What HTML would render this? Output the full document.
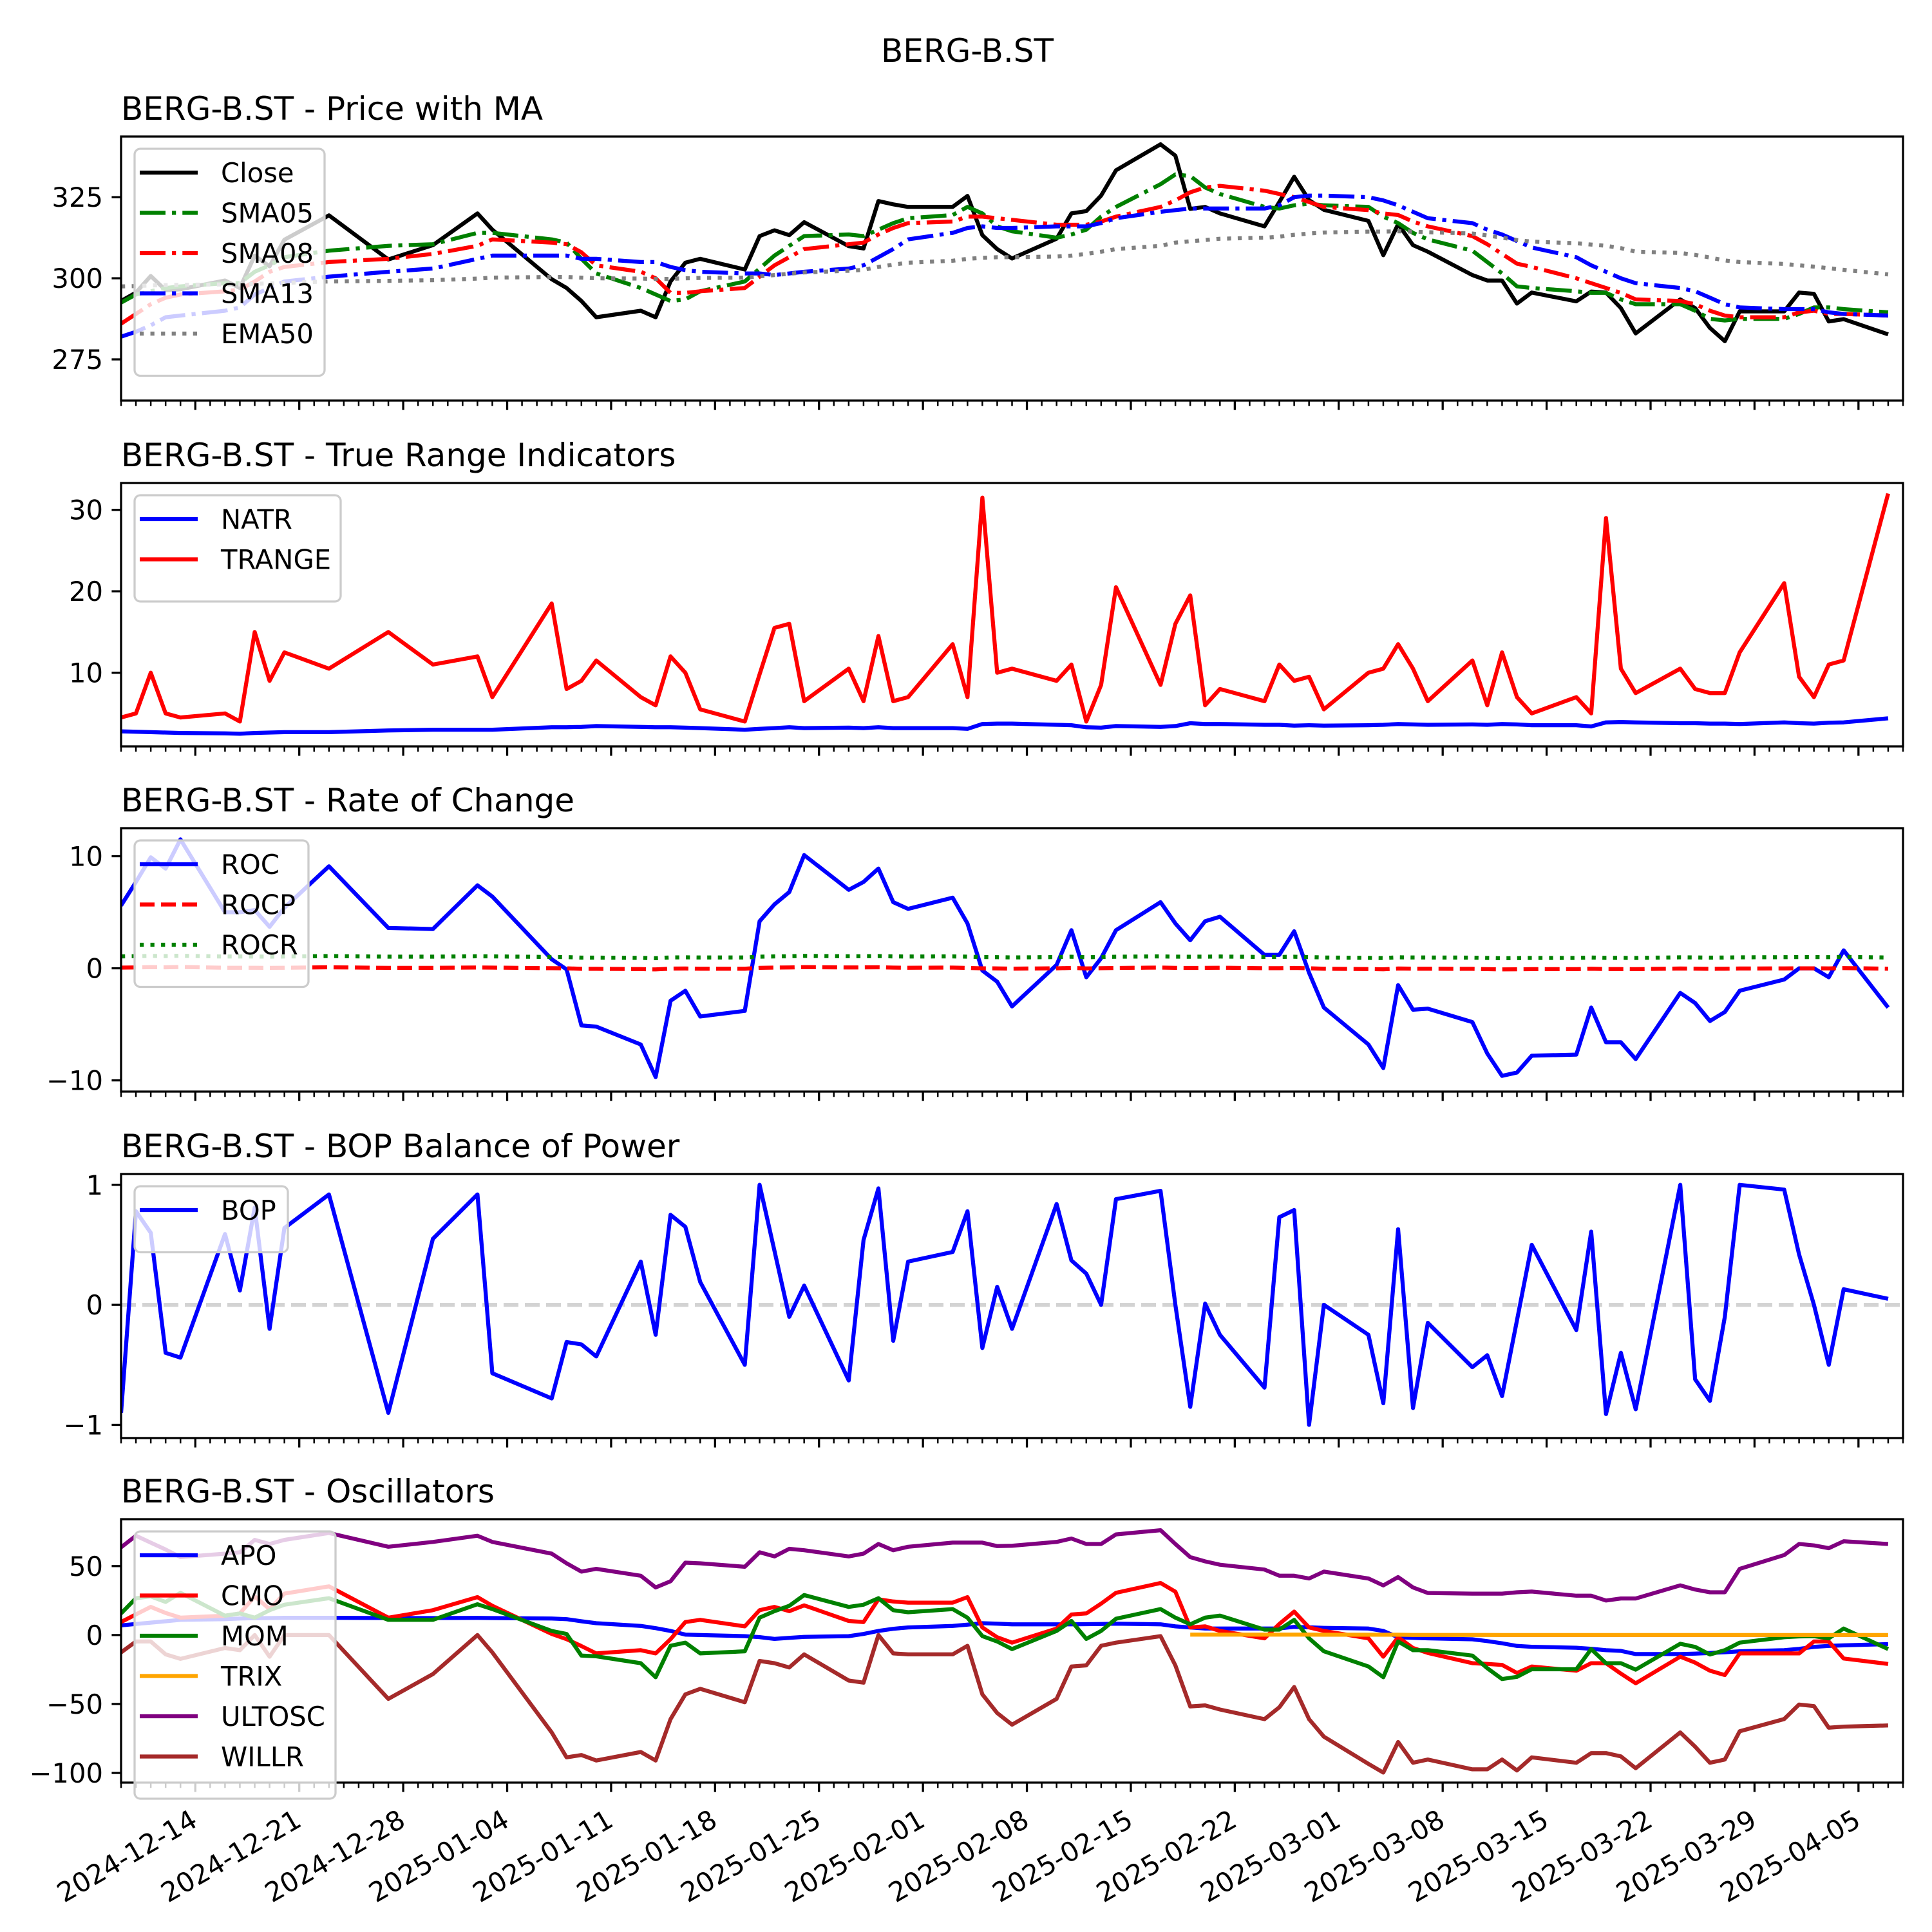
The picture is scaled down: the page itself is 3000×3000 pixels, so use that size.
<!DOCTYPE html>
<html><head><meta charset="utf-8"><title>BERG-B.ST</title>
<style>
html,body{margin:0;padding:0;background:#fff;}
svg{display:block;font-family:"DejaVu Sans","Liberation Sans",sans-serif;}
</style></head>
<body>
<svg id="chart" xmlns="http://www.w3.org/2000/svg" width="3000" height="3000" viewBox="0 0 3000 3000">
<rect x="0" y="0" width="3000" height="3000" fill="#fff"/>
<text x="1502" y="96" font-size="50" text-anchor="middle">BERG-B.ST</text>
</svg>
<script>
const dates = ["2024-12-09","2024-12-10","2024-12-11","2024-12-12","2024-12-13","2024-12-16","2024-12-17","2024-12-18","2024-12-19","2024-12-20","2024-12-23","2024-12-27","2024-12-30","2025-01-02","2025-01-03","2025-01-07","2025-01-08","2025-01-09","2025-01-10","2025-01-13","2025-01-14","2025-01-15","2025-01-16","2025-01-17","2025-01-20","2025-01-21","2025-01-22","2025-01-23","2025-01-24","2025-01-27","2025-01-28","2025-01-29","2025-01-30","2025-01-31","2025-02-03","2025-02-04","2025-02-05","2025-02-06","2025-02-07","2025-02-10","2025-02-11","2025-02-12","2025-02-13","2025-02-14","2025-02-17","2025-02-18","2025-02-19","2025-02-20","2025-02-21","2025-02-24","2025-02-25","2025-02-26","2025-02-27","2025-02-28","2025-03-03","2025-03-04","2025-03-05","2025-03-06","2025-03-07","2025-03-10","2025-03-11","2025-03-12","2025-03-13","2025-03-14","2025-03-17","2025-03-18","2025-03-19","2025-03-20","2025-03-21","2025-03-24","2025-03-25","2025-03-26","2025-03-27","2025-03-28","2025-03-31","2025-04-01","2025-04-02","2025-04-03","2025-04-04","2025-04-07"];
const tickLabels = ["2024-12-14","2024-12-21","2024-12-28","2025-01-04","2025-01-11","2025-01-18","2025-01-25","2025-02-01","2025-02-08","2025-02-15","2025-02-22","2025-03-01","2025-03-08","2025-03-15","2025-03-22","2025-03-29","2025-04-05"];
const close = [293,295.6,300.7,296.3,296.6,299.3,297,307,303.7,311.9,319.4,305.8,310.2,320,315,299.7,297,293,288,290,288,299,304.8,306,302.7,313,314.8,313.3,317.3,309.9,309.2,323.8,322.8,322,322,325.4,313.3,309,306.1,312.2,320,320.7,325.5,333.3,341.3,337.8,321.4,322,320,316,323.5,331.3,324.1,321.1,317.7,307.1,316.7,310.2,308.2,301,299.3,299.3,292.2,295.6,292.9,295.9,295.6,290.8,283,293.5,290.8,284.7,280.6,289.8,289.8,295.6,295.2,286.7,287.4,282.7];
const sma05 = [292.5,295,296,297,297.5,298.5,298.5,302,304,306.5,308.5,310,310.5,314,314,312,311,306,301.5,297,295,293,293.5,296,299,303,307,310,313,313.5,313,315,317,318.5,319.5,322,320,316,314.5,312.5,313.5,315,319,322,329,332,331.5,328,326,322,321.5,322.5,323,322.5,322,319,317,314,312,308.5,305,301.5,297.5,297,296,295.5,295.5,293.5,292,292,290,287.5,287,287.5,287.5,289,291,291,290.5,289.5];
const sma08 = [286,289,292,294,295,296,296.5,299,302,303.5,305,306,307.5,310,312,311,310.5,308,304,302,300,295.5,295.5,296,297,300.5,304,306.5,309,310.5,311,313.5,315.5,317,317.5,319,319,318.5,318,316.5,316.5,316.5,317.5,319,322,324,326.5,328,328.5,327,326,325,323.5,322,321,320,319.5,317.5,316,313,310.5,307.5,304.5,303.5,300,298.5,297,295.5,293.5,293,292,290,288.5,288,288,289.5,290,289,289,288.5];
const sma13 = [282,283.5,285.5,288,288.5,290,291,295,297,299,300.5,302,303,306,307,307,307,306,306,305,305,303.5,302.5,302,301.5,301.5,301,301.5,302,303,304,306.5,309,312,314,315.5,316,315.5,315.5,316,316,316,317,318.5,320.5,321,321.5,321.5,321.5,321.5,322.5,325,325.5,325.5,325,324,322.5,320.5,318.5,317,315,313.5,311.5,309.5,306.5,304,302,300,298.5,297,296,294,292,291,290.5,290.5,290.5,289.5,289,288.5];
const ema50 = [297.5,297.6,297.8,297.9,298,298.1,298.1,298.3,298.4,298.6,299,299.2,299.4,299.9,300.2,300.4,300.4,300.2,300,299.9,299.8,299.8,300,300.1,300.2,300.6,301,301.4,301.8,302.3,302.6,303.5,304.2,304.8,305.4,306,306.3,306.5,306.5,306.7,307,307.5,308.2,309,310,311,311.4,311.8,312.2,312.5,312.8,313.4,313.8,314.1,314.4,314.4,314.5,314.4,314.2,313.8,313.2,312.5,311.8,311.3,310.8,310.4,310,309.3,308.2,307.8,307.2,306.4,305.5,305,304.4,304,303.6,303.1,302.6,301.2];
const natr = [2.8,2.75,2.7,2.65,2.6,2.55,2.5,2.6,2.65,2.7,2.7,2.9,3.0,3.0,3.0,3.3,3.3,3.35,3.45,3.35,3.3,3.3,3.25,3.2,3.0,3.1,3.2,3.3,3.2,3.25,3.2,3.3,3.2,3.2,3.2,3.1,3.7,3.75,3.75,3.6,3.55,3.3,3.25,3.45,3.35,3.45,3.8,3.7,3.7,3.6,3.6,3.5,3.55,3.5,3.55,3.6,3.7,3.65,3.6,3.65,3.6,3.7,3.65,3.55,3.55,3.4,3.9,3.95,3.9,3.8,3.8,3.75,3.75,3.7,3.9,3.8,3.75,3.85,3.9,4.4];
const trange = [4.5,5,10,5,4.5,5,4,15,9,12.5,10.5,15,11,12,7,18.5,8,9,11.5,7,6,12,10,5.5,4,9.8,15.5,16,6.5,10.5,6.5,14.5,6.5,7,13.5,7,31.5,10,10.5,9,11,4,8.5,20.5,8.5,16,19.5,6,8,6.5,11,9,9.5,5.5,10,10.5,13.5,10.5,6.5,11.5,6,12.5,7,5,7,5,29,10.5,7.5,10.5,8,7.5,7.5,12.5,21,9.5,7,11,11.5,32];
const roc = [5.6,7.7,9.9,8.9,11.5,5,5,5.2,3.7,5.4,9.1,3.6,3.5,7.4,6.4,0.8,-0.1,-5.1,-5.2,-6.8,-9.7,-2.9,-2,-4.3,-3.8,4.2,5.7,6.8,10.1,7,7.7,8.9,5.9,5.3,6.3,4,-0.2,-1.2,-3.4,0.3,3.4,-0.8,0.9,3.4,5.9,4,2.5,4.2,4.6,1.2,1.2,3.3,-0.4,-3.5,-6.8,-8.9,-1.5,-3.7,-3.6,-4.8,-7.6,-9.6,-9.3,-7.8,-7.7,-3.5,-6.6,-6.6,-8.1,-2.2,-3.1,-4.7,-3.9,-2,-1,0,0,-0.8,1.6,-3.5];
const rocp = [0.06,0.08,0.1,0.09,0.12,0.05,0.05,0.05,0.04,0.05,0.09,0.04,0.04,0.07,0.06,0.01,0,-0.05,-0.05,-0.07,-0.1,-0.03,-0.02,-0.04,-0.04,0.04,0.06,0.07,0.1,0.07,0.08,0.09,0.06,0.05,0.06,0.04,0,-0.01,-0.03,0,0.03,-0.01,0.01,0.03,0.06,0.04,0.03,0.04,0.05,0.01,0.01,0.03,0,-0.04,-0.07,-0.09,-0.02,-0.04,-0.04,-0.05,-0.08,-0.1,-0.09,-0.08,-0.08,-0.04,-0.07,-0.07,-0.08,-0.02,-0.03,-0.05,-0.04,-0.02,-0.01,0,0,-0.01,0.02,-0.04];
const rocr = [1.06,1.08,1.1,1.09,1.12,1.05,1.05,1.05,1.04,1.05,1.09,1.04,1.04,1.07,1.06,1.01,1,0.95,0.95,0.93,0.9,0.97,0.98,0.96,0.96,1.04,1.06,1.07,1.1,1.07,1.08,1.09,1.06,1.05,1.06,1.04,1,0.99,0.97,1,1.03,0.99,1.01,1.03,1.06,1.04,1.03,1.04,1.05,1.01,1.01,1.03,1,0.96,0.93,0.91,0.98,0.96,0.96,0.95,0.92,0.9,0.91,0.92,0.92,0.96,0.93,0.93,0.92,0.98,0.97,0.95,0.96,0.98,0.99,1,1,0.99,1.02,0.96];
const bop = [-0.9,0.78,0.6,-0.4,-0.44,0.59,0.12,0.81,-0.2,0.64,0.92,-0.9,0.55,0.92,-0.57,-0.78,-0.31,-0.33,-0.43,0.36,-0.25,0.75,0.65,0.19,-0.5,1.0,0.45,-0.1,0.16,-0.63,0.54,0.97,-0.3,0.36,0.44,0.78,-0.36,0.15,-0.2,0.84,0.37,0.26,0,0.88,0.95,0,-0.85,0.01,-0.25,-0.69,0.73,0.79,-1.0,0,-0.25,-0.82,0.63,-0.86,-0.15,-0.52,-0.42,-0.76,-0.13,0.5,-0.21,0.61,-0.91,-0.4,-0.87,1.0,-0.62,-0.8,-0.1,1.0,0.96,0.42,0,-0.5,0.13,0.05];
const apo = [7,8,9,10,11,11.5,12,12.2,12.3,12.5,12.5,12.3,12.3,12.4,12.3,12,11.5,10,8.6,6.6,5,3,0.3,0,-0.8,-1.5,-2.8,-2,-1.3,-0.8,0.8,3,4.5,5.5,6.6,7.5,8.6,8.2,7.8,7.8,7.8,7.9,8,8.2,7.8,6.3,5.5,4.7,4.7,4.7,4.8,5.9,5.6,5.2,4.7,3,-1.6,-2,-2.4,-3.1,-4.4,-6,-7.9,-8.5,-9.2,-10,-11,-11.5,-13.8,-13.8,-13.5,-13,-12.5,-11.8,-11,-10,-8.6,-7.9,-7.5,-6.6];
const cmo = [9.4,15,20.4,16,12.6,14,15.7,28,18.8,30,35.3,12.6,18,27.5,21.2,0.8,-3,-8,-13.3,-11,-13.3,-3,9.4,11,6.3,18,20.4,17.3,21.5,10.2,9.4,25.9,24.3,23.5,23.5,27.5,5.5,-1.6,-5.5,4.7,14.9,15.7,22.8,30.6,37.7,31.4,5.5,6.3,3,-2.4,8,17,5.5,3,-2.4,-15.7,-1.6,-9.4,-13,-20.4,-21,-21.7,-27.5,-22.8,-25.9,-20.4,-20.4,-28,-35,-15.7,-20,-25.9,-29,-13.3,-13.3,-13.3,-4.7,-4.7,-17,-21];
const mom = [15.7,26.7,28,24,30.6,14,15.7,12.6,18,22,26.7,11,11,22.3,18.8,3,0.8,-14.9,-15.4,-20.4,-30.6,-7.8,-5.5,-13.3,-11.8,12.6,17.3,21.2,29,20.4,22,26.7,18,16.5,18.8,12.6,-0.8,-4.7,-10.2,3,10.2,-2.8,3,11.8,18.8,12.6,7.8,12.6,14.1,3.9,3.9,11,-2.4,-11.8,-22.8,-30.6,-4.7,-11,-11,-14.9,-24,-31.9,-30.3,-24.8,-24.8,-10.2,-20.4,-20.4,-25.1,-6.3,-8.6,-14.1,-11,-5.5,-1.6,-1,-0.8,-2.4,4.7,-10.2];
const trix = [null,null,null,null,null,null,null,null,null,null,null,null,null,null,null,null,null,null,null,null,null,null,null,null,null,null,null,null,null,null,null,null,null,null,null,null,null,null,null,null,null,null,null,null,null,null,0.3,0.3,0.3,0.3,0.3,0.3,0.3,0.2,0.2,0.2,0.2,0.1,0.1,0.1,0.1,0,0,0,0,0,0,0,0,0,0,0,0,0,0,0,0,0,0,0];
const ultosc = [63.6,72,67,62,56.5,59,60,69,66,69,74,64,67.5,72,67.5,59,52,46,48,43,34.5,39,52.5,52,49.5,60,57,62.5,61.5,57,59,66,61.5,64,67,67,67,64.5,64.7,67.5,70,66,66,73,76,66,56.5,53.4,51,47.5,43,43,41,46,41,36,42,34.5,30.5,30,30,30,31,31.5,28.5,28.5,25,26.5,26.5,36,33,31,31,48,58,66,65,63,68,66];
const willr = [-12.6,-4.7,-4.7,-14,-17.3,-9.4,-11,0,-15.7,0,0,-46.3,-28.3,0,-12.6,-70.6,-88.7,-87,-91,-84.8,-91,-61,-43,-39,-48.7,-18.8,-20.4,-23.5,-14,-33,-34.5,0,-13.3,-14,-14,-7.8,-43,-56.5,-65,-46.3,-22.8,-22,-7.8,-5.5,-0.8,-22,-51.8,-51,-54,-61,-52.4,-37.7,-61,-73.7,-93.4,-99.7,-77.6,-92.6,-90.3,-97.4,-97.4,-90.3,-98.2,-88.7,-92.6,-85.6,-85.6,-88,-96.6,-70.6,-81,-92.6,-90.3,-69.8,-60.9,-50.4,-51.5,-67.2,-66.4,-65.6];

const NS = "http://www.w3.org/2000/svg";
const svg = document.getElementById("chart");
const X0 = 188, X1 = 2955;
const T0 = Date.UTC(2024, 11, 9);
const SPAN = 120.0;
function dayOf(s){ const p = s.split("-"); return (Date.UTC(+p[0], +p[1]-1, +p[2]) - T0) / 86400000; }
function xScale(d){ return X0 + d * (X1 - X0) / SPAN; }
const days = dates.map(dayOf);
function mk(tag, attrs, parent){ const e = document.createElementNS(NS, tag); for (const k in attrs) e.setAttribute(k, attrs[k]); (parent || svg).appendChild(e); return e; }

const LW = 6.25;
const DASH = {"-": null, "-.": "40,10,6.25,10", "--": "23,10", ":": "6.25,10.3"};

const panels = [
  {name:"price-panel", title:"BERG-B.ST - Price with MA", top:212, bot:622, ymin:262.3, ymax:343.7, ticks:[275,300,325], legW:295,
   series:[["Close",close,"#000000","-"],["SMA05",sma05,"#008000","-."],["SMA08",sma08,"#ff0000","-."],["SMA13",sma13,"#0000ff","-."],["EMA50",ema50,"#808080",":"]]},
  {name:"true-range-panel", title:"BERG-B.ST - True Range Indicators", top:750, bot:1159, ymin:0.95, ymax:33.3, ticks:[10,20,30], legW:320,
   series:[["NATR",natr,"#0000ff","-"],["TRANGE",trange,"#ff0000","-"]]},
  {name:"roc-panel", title:"BERG-B.ST - Rate of Change", top:1286, bot:1695, ymin:-11.0, ymax:12.5, ticks:[-10,0,10], legW:270,
   series:[["ROC",roc,"#0000ff","-"],["ROCP",rocp,"#ff0000","--"],["ROCR",rocr,"#008000",":"]]},
  {name:"bop-panel", title:"BERG-B.ST - BOP Balance of Power", top:1823, bot:2233, ymin:-1.11, ymax:1.09, ticks:[-1,0,1], legW:238, zero:true,
   series:[["BOP",bop,"#0000ff","-"]]},
  {name:"oscillator-panel", title:"BERG-B.ST - Oscillators", top:2359, bot:2768, ymin:-107, ymax:84, ticks:[-100,-50,0,50], legW:312,
   series:[["APO",apo,"#0000ff","-"],["CMO",cmo,"#ff0000","-"],["MOM",mom,"#008000","-"],["TRIX",trix,"#ffa500","-"],["ULTOSC",ultosc,"#800080","-"],["WILLR",willr,"#a52a2a","-"]]}
];

panels.forEach((p, pi) => {
  const g = mk("g", {});
  
  
  const yScale = v => p.bot - (v - p.ymin) / (p.ymax - p.ymin) * (p.bot - p.top);
  const cid = "clip" + pi;
  const cp = mk("clipPath", {id: cid}, g);
  mk("rect", {x: X0, y: p.top, width: X1 - X0, height: p.bot - p.top}, cp);

  const t = mk("text", {x: X0, y: p.top - 26, "font-size": 50}, g);
  t.textContent = p.title;
  
  

  if (p.zero) {
    const z = mk("line", {x1: X0, x2: X1, y1: yScale(0), y2: yScale(0), stroke: "#d3d3d3", "stroke-width": LW, "stroke-dasharray": "23,10"}, g);
    
    
  }

  p.series.forEach(s => {
    const vals = s[1];
    let segs = [], cur = "";
    vals.forEach((v, i) => {
      if (v === null) { if (cur) { segs.push(cur); cur = ""; } return; }
      cur += (cur ? "L" : "M") + xScale(days[i]).toFixed(1) + "," + yScale(v).toFixed(1);
    });
    if (cur) segs.push(cur);
    const path = mk("path", {d: segs.join(" "), fill: "none", stroke: s[2], "stroke-width": LW, "stroke-linejoin": "round", "clip-path": "url(#" + cid + ")"}, g);
    if (DASH[s[3]]) path.setAttribute("stroke-dasharray", DASH[s[3]]);
    
    
  });

  const frame = mk("rect", {x: X0, y: p.top, width: X1 - X0, height: p.bot - p.top, fill: "none", stroke: "#000", "stroke-width": 3.3}, g);
  
  

  p.ticks.forEach(v => {
    const y = yScale(v);
    mk("line", {x1: X0 - 14.6, x2: X0, y1: y, y2: y, stroke: "#000", "stroke-width": 3.3}, g);
    const lbl = mk("text", {x: X0 - 28, y: y + 15, "font-size": 41.7, "text-anchor": "end"}, g);
    lbl.textContent = (v < 0 ? "\u2212" + Math.abs(v) : String(v));
    
    
  });

  for (let d = 0; d <= Math.floor(SPAN); d++) {
    const x = xScale(d);
    const major = (d - 5) % 7 === 0 && d >= 5;
    mk("line", {x1: x, x2: x, y1: p.bot, y2: p.bot + (major ? 14.6 : 8.3), stroke: "#000", "stroke-width": major ? 3.3 : 2.5}, g);
  }
  if (pi === panels.length - 1) {
    tickLabels.forEach(s => {
      const x = xScale(dayOf(s));
      const lbl = mk("text", {"font-size": 41.7, "text-anchor": "end", transform: "translate(" + (x + 6) + "," + (p.bot + 66) + ") rotate(-30)"}, g);
      lbl.textContent = s;
      
      
    });
  }

  const n = p.series.length;
  const lg = mk("g", {}, g);
  
  
  const lx = X0 + 21, ly = p.top + 19;
  mk("rect", {x: lx, y: ly, width: p.legW, height: 30 + n * 62.5 + 10, rx: 9, fill: "#fff", "fill-opacity": 0.8, stroke: "#cccccc", "stroke-width": 3.3}, lg);
  p.series.forEach((s, i) => {
    const cy = ly + 37 + i * 62.5;
    const h = mk("line", {x1: lx + 8, x2: lx + 98, y1: cy, y2: cy, stroke: s[2], "stroke-width": LW}, lg);
    if (DASH[s[3]]) h.setAttribute("stroke-dasharray", DASH[s[3]]);
    const tx = mk("text", {x: lx + 134, y: cy + 15, "font-size": 41.7}, lg);
    tx.textContent = s[0];
    
    
  });
});
</script>
</body></html>
